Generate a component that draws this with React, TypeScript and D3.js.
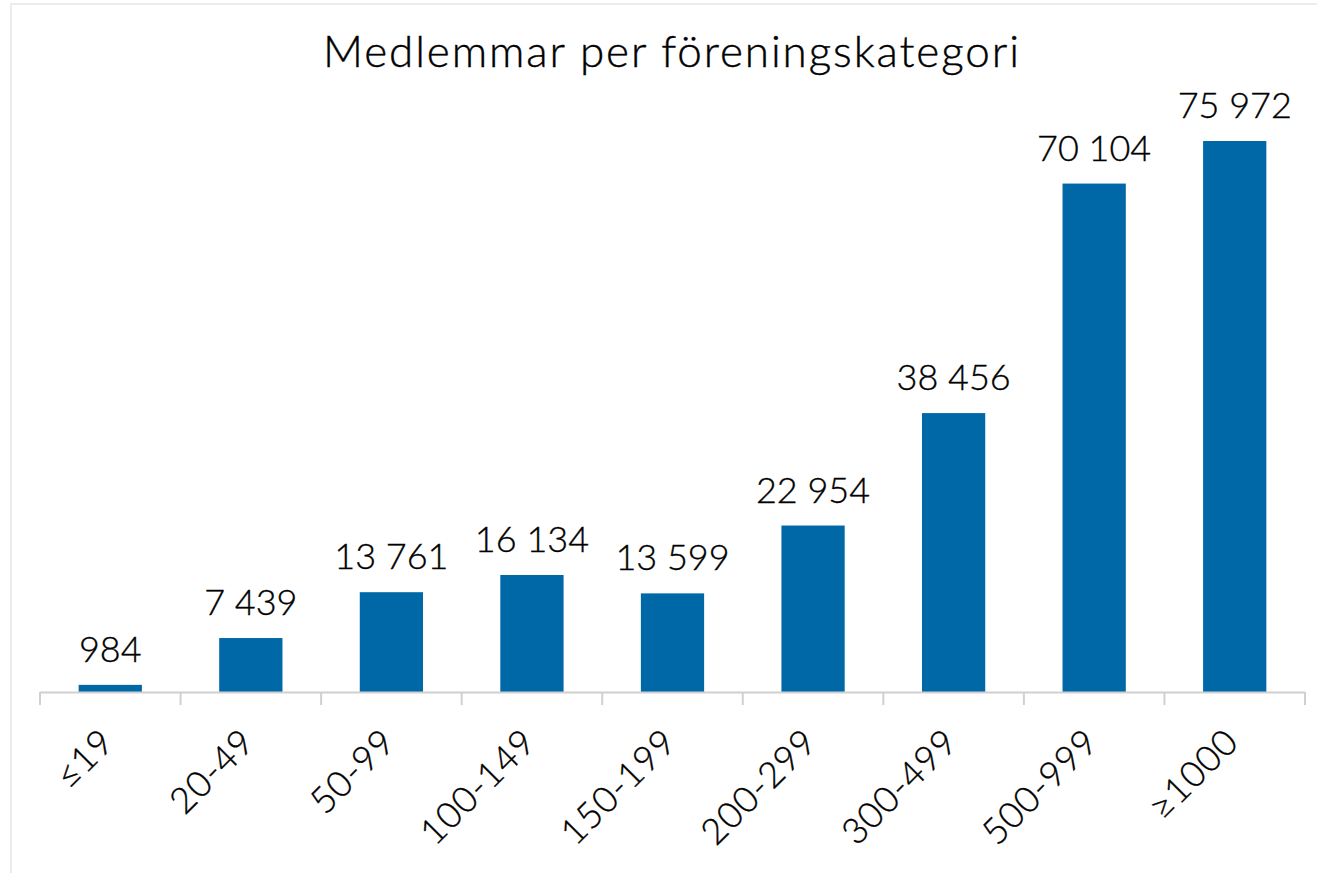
import React from "react";
import * as d3 from "d3";

const categories = ["≤19", "20-49", "50-99", "100-149", "150-199", "200-299", "300-499", "500-999", "≥1000"];
const values = [984, 7439, 13761, 16134, 13599, 22954, 38456, 70104, 75972];
const valueLabels = ["984", "7 439", "13 761", "16 134", "13 599", "22 954", "38 456", "70 104", "75 972"];
const title = "Medlemmar per föreningskategori";

const W = 1317;
const H = 873;
const FONT = "Lato, 'Open Sans', sans-serif";

export default function App() {
  const x = d3.scaleBand<string>().domain(categories).range([40, 1305]).paddingInner(0.55).paddingOuter(0.275);
  const y = d3.scaleLinear().domain([0, 80000]).range([692, 111.8]);
  const x0 = 40;
  const x1 = 1305;
  const step = (x1 - x0) / categories.length;
  const ticks = d3.range(categories.length + 1).map((i) => x0 + i * step);

  return (
    <svg width={W} height={H} style={{ position: "absolute", left: 0, top: 0, background: "#fff" }} fontFamily={FONT} fontWeight={300}>
      <rect x={11} y={4} width={W} height={H} fill="#fff" stroke="#ececec" strokeWidth={2} />
      <text x={672} y={67} textAnchor="middle" fontSize={44} letterSpacing={1.9} fill="#000" stroke="#000" strokeWidth={0.4}>{title}</text>
      {categories.map((c, i) => (
        <rect key={c} x={x(c)} y={y(values[i])} width={x.bandwidth()} height={y(0) - y(values[i])} fill="#0068a6" />
      ))}
      {categories.map((c, i) => (
        <text key={c} x={(x(c) as number) + x.bandwidth() / 2} y={y(values[i]) - 23} textAnchor="middle" fontSize={36} fill="#000" stroke="#000" strokeWidth={0.35}>
          {valueLabels[i]}
        </text>
      ))}
      <line x1={x0} x2={x1} y1={692.5} y2={692.5} stroke="#d0d0d0" strokeWidth={2} />
      {ticks.map((t, i) => (
        <line key={i} x1={t} x2={t} y1={692} y2={705} stroke="#d0d0d0" strokeWidth={2} />
      ))}
      {categories.map((c) => {
        const cx = (x(c) as number) + x.bandwidth() / 2;
        return (
          <text key={c} transform={`translate(${cx + 6},${744}) rotate(-45)`} textAnchor="end" fontSize={36} letterSpacing={1} fill="#000" stroke="#000" strokeWidth={0.35}>
            {c}
          </text>
        );
      })}
    </svg>
  );
}
